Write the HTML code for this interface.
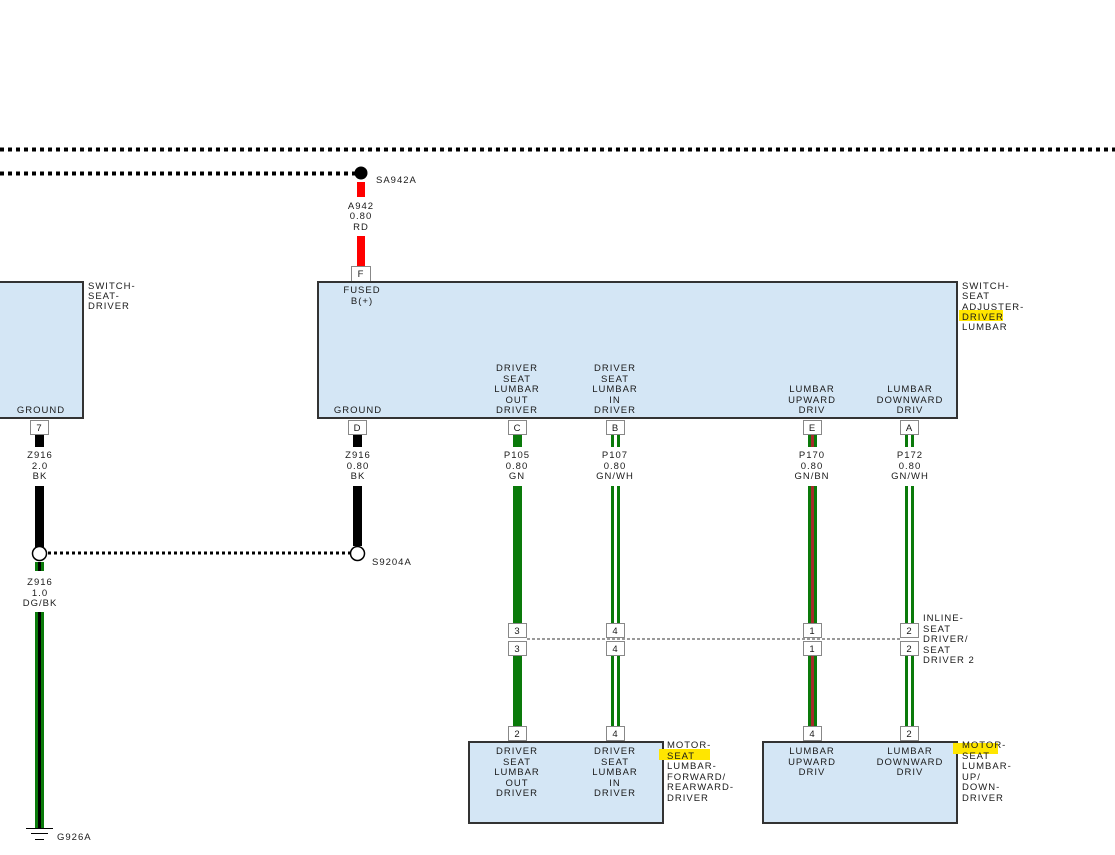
<!DOCTYPE html>
<html><head><meta charset="utf-8"><style>
html,body{margin:0;padding:0;background:#fff;}
svg{display:block;}
text{font-family:"Liberation Sans",sans-serif;font-size:9.5px;letter-spacing:1px;fill:#1a1a1a;}
.c{text-anchor:middle;}
</style></head><body>
<svg width="1115" height="855" viewBox="0 0 1115 855" xmlns="http://www.w3.org/2000/svg">
<!-- dotted buses -->
<line x1="0" y1="149.5" x2="1115" y2="149.5" stroke="#000" stroke-width="4" stroke-dasharray="4,4"/>
<line x1="0" y1="173.5" x2="356" y2="173.5" stroke="#000" stroke-width="4" stroke-dasharray="4,4"/>
<circle cx="361" cy="173" r="6.5" fill="#000"/>
<text x="376" y="183">SA942A</text>
<!-- red wire -->
<rect x="357" y="182" width="8" height="15" fill="#f00"/>
<text class="c" x="361" y="209">A942</text>
<text class="c" x="361" y="219">0.80</text>
<text class="c" x="361" y="230">RD</text>
<rect x="357" y="236" width="8" height="30" fill="#f00"/>
<rect x="351.5" y="266.5" width="19" height="15" fill="#fff" stroke="#888"/>
<text class="c" x="361" y="277">F</text>

<!-- left box -->
<rect x="-2" y="282" width="85" height="136" fill="#d4e6f5" stroke="#333" stroke-width="2"/>
<text class="c" x="41" y="413">GROUND</text>
<text x="88" y="289">SWITCH-</text>
<text x="88" y="299">SEAT-</text>
<text x="88" y="309">DRIVER</text>

<!-- main box -->
<rect x="318" y="282" width="639" height="136" fill="#d4e6f5" stroke="#333" stroke-width="2"/>
<text class="c" x="362" y="293">FUSED</text>
<text class="c" x="362" y="304">B(+)</text>
<text class="c" x="358" y="413">GROUND</text>
<text class="c" x="517" y="371">DRIVER</text><text class="c" x="517" y="382">SEAT</text><text class="c" x="517" y="392">LUMBAR</text><text class="c" x="517" y="403">OUT</text><text class="c" x="517" y="413">DRIVER</text>
<text class="c" x="615" y="371">DRIVER</text><text class="c" x="615" y="382">SEAT</text><text class="c" x="615" y="392">LUMBAR</text><text class="c" x="615" y="403">IN</text><text class="c" x="615" y="413">DRIVER</text>
<text class="c" x="812" y="392">LUMBAR</text><text class="c" x="812" y="403">UPWARD</text><text class="c" x="812" y="413">DRIV</text>
<text class="c" x="910" y="392">LUMBAR</text><text class="c" x="910" y="403">DOWNWARD</text><text class="c" x="910" y="413">DRIV</text>
<rect x="959" y="310" width="44" height="11" fill="#ffe600"/>
<text x="962" y="289">SWITCH-</text><text x="962" y="299">SEAT</text><text x="962" y="310">ADJUSTER-</text><text x="962" y="320">DRIVER</text><text x="962" y="330">LUMBAR</text>

<!-- pins below main -->
<g fill="#fff" stroke="#888">
<rect x="30.5" y="420.5" width="18" height="14"/>
<rect x="348.5" y="420.5" width="18" height="14"/>
<rect x="508.5" y="420.5" width="18" height="14"/>
<rect x="606.5" y="420.5" width="18" height="14"/>
<rect x="803.5" y="420.5" width="18" height="14"/>
<rect x="900.5" y="420.5" width="18" height="14"/>
</g>
<text class="c" x="39.5" y="431">7</text>
<text class="c" x="357.5" y="431">D</text>
<text class="c" x="517.5" y="431">C</text>
<text class="c" x="615.5" y="431">B</text>
<text class="c" x="812.5" y="431">E</text>
<text class="c" x="909.5" y="431">A</text>

<!-- wire labels -->
<text class="c" x="40" y="458">Z916</text><text class="c" x="40" y="469">2.0</text><text class="c" x="40" y="479">BK</text>
<text class="c" x="358" y="458">Z916</text><text class="c" x="358" y="469">0.80</text><text class="c" x="358" y="479">BK</text>
<text class="c" x="517" y="458">P105</text><text class="c" x="517" y="469">0.80</text><text class="c" x="517" y="479">GN</text>
<text class="c" x="615" y="458">P107</text><text class="c" x="615" y="469">0.80</text><text class="c" x="615" y="479">GN/WH</text>
<text class="c" x="812" y="458">P170</text><text class="c" x="812" y="469">0.80</text><text class="c" x="812" y="479">GN/BN</text>
<text class="c" x="910" y="458">P172</text><text class="c" x="910" y="469">0.80</text><text class="c" x="910" y="479">GN/WH</text>

<!-- black wires -->
<rect x="35" y="435" width="9" height="12" fill="#000"/>
<rect x="35" y="486" width="9" height="61" fill="#000"/>
<rect x="353" y="435" width="9" height="12" fill="#000"/>
<rect x="353" y="486" width="9" height="60" fill="#000"/>
<line x1="48" y1="553" x2="350" y2="553" stroke="#000" stroke-width="3" stroke-dasharray="3,3"/>
<circle cx="39.5" cy="553.5" r="7" fill="#fff" stroke="#000" stroke-width="1.5"/>
<circle cx="357.5" cy="553.5" r="7" fill="#fff" stroke="#000" stroke-width="1.5"/>
<text x="372" y="565">S9204A</text>

<!-- DG/BK -->
<rect x="35" y="562" width="9" height="9" fill="#0a7a0a"/><rect x="38" y="562" width="3" height="9" fill="#000"/>
<text class="c" x="40" y="585">Z916</text><text class="c" x="40" y="596">1.0</text><text class="c" x="40" y="606">DG/BK</text>
<rect x="35" y="612" width="9" height="216" fill="#0a7a0a"/><rect x="38" y="612" width="3" height="216" fill="#000"/>
<line x1="26" y1="828.5" x2="53" y2="828.5" stroke="#000"/>
<line x1="31" y1="833.5" x2="48" y2="833.5" stroke="#000"/>
<line x1="35" y1="839.5" x2="44" y2="839.5" stroke="#000"/>
<text x="57" y="840">G926A</text>

<!-- green wires: C -->
<g fill="#0a7a0a">
<rect x="513" y="435" width="9" height="12"/>
<rect x="513" y="486" width="9" height="137"/>
<rect x="513" y="656" width="9" height="70"/>
</g>
<!-- B striped -->
<g>
<rect x="611" y="435" width="9" height="12" fill="#0a7a0a"/><rect x="614" y="435" width="3" height="12" fill="#fff"/>
<rect x="611" y="486" width="9" height="137" fill="#0a7a0a"/><rect x="614" y="486" width="3" height="137" fill="#fff"/>
<rect x="611" y="656" width="9" height="70" fill="#0a7a0a"/><rect x="614" y="656" width="3" height="70" fill="#fff"/>
</g>
<!-- E GN/BN -->
<g>
<rect x="808" y="435" width="9" height="12" fill="#0a7a0a"/><rect x="811" y="435" width="3" height="12" fill="#a52a2a"/>
<rect x="808" y="486" width="9" height="137" fill="#0a7a0a"/><rect x="811" y="486" width="3" height="137" fill="#a52a2a"/>
<rect x="808" y="656" width="9" height="70" fill="#0a7a0a"/><rect x="811" y="656" width="3" height="70" fill="#a52a2a"/>
</g>
<!-- A striped -->
<g>
<rect x="905" y="435" width="9" height="12" fill="#0a7a0a"/><rect x="908" y="435" width="3" height="12" fill="#fff"/>
<rect x="905" y="486" width="9" height="137" fill="#0a7a0a"/><rect x="908" y="486" width="3" height="137" fill="#fff"/>
<rect x="905" y="656" width="9" height="70" fill="#0a7a0a"/><rect x="908" y="656" width="3" height="70" fill="#fff"/>
</g>

<!-- inline connector -->
<line x1="527" y1="639" x2="900" y2="639" stroke="#333" stroke-width="1" stroke-dasharray="3,2"/>
<g fill="#fff" stroke="#888">
<rect x="508.5" y="623.5" width="18" height="14"/><rect x="508.5" y="641.5" width="18" height="14"/>
<rect x="606.5" y="623.5" width="18" height="14"/><rect x="606.5" y="641.5" width="18" height="14"/>
<rect x="803.5" y="623.5" width="18" height="14"/><rect x="803.5" y="641.5" width="18" height="14"/>
<rect x="900.5" y="623.5" width="18" height="14"/><rect x="900.5" y="641.5" width="18" height="14"/>
<rect x="508.5" y="726.5" width="18" height="14"/><rect x="606.5" y="726.5" width="18" height="14"/>
<rect x="803.5" y="726.5" width="18" height="14"/><rect x="900.5" y="726.5" width="18" height="14"/>
</g>
<text class="c" x="517.5" y="634">3</text><text class="c" x="517.5" y="652">3</text>
<text class="c" x="615.5" y="634">4</text><text class="c" x="615.5" y="652">4</text>
<text class="c" x="812.5" y="634">1</text><text class="c" x="812.5" y="652">1</text>
<text class="c" x="909.5" y="634">2</text><text class="c" x="909.5" y="652">2</text>
<text class="c" x="517.5" y="737">2</text><text class="c" x="615.5" y="737">4</text>
<text class="c" x="812.5" y="737">4</text><text class="c" x="909.5" y="737">2</text>
<text x="923" y="621">INLINE-</text><text x="923" y="632">SEAT</text><text x="923" y="642">DRIVER/</text><text x="923" y="653">SEAT</text><text x="923" y="663">DRIVER 2</text>

<!-- motor boxes -->
<rect x="469" y="742" width="194" height="81" fill="#d4e6f5" stroke="#333" stroke-width="2"/>
<rect x="763" y="742" width="194" height="81" fill="#d4e6f5" stroke="#333" stroke-width="2"/>
<text class="c" x="517" y="754">DRIVER</text><text class="c" x="517" y="765">SEAT</text><text class="c" x="517" y="775">LUMBAR</text><text class="c" x="517" y="786">OUT</text><text class="c" x="517" y="796">DRIVER</text>
<text class="c" x="615" y="754">DRIVER</text><text class="c" x="615" y="765">SEAT</text><text class="c" x="615" y="775">LUMBAR</text><text class="c" x="615" y="786">IN</text><text class="c" x="615" y="796">DRIVER</text>
<text class="c" x="812" y="754">LUMBAR</text><text class="c" x="812" y="765">UPWARD</text><text class="c" x="812" y="775">DRIV</text>
<text class="c" x="910" y="754">LUMBAR</text><text class="c" x="910" y="765">DOWNWARD</text><text class="c" x="910" y="775">DRIV</text>
<rect x="659" y="749" width="51" height="11" fill="#ffe600"/>
<text x="667" y="748">MOTOR-</text><text x="667" y="759">SEAT</text><text x="667" y="769">LUMBAR-</text><text x="667" y="780">FORWARD/</text><text x="667" y="790">REARWARD-</text><text x="667" y="801">DRIVER</text>
<rect x="953" y="743" width="45" height="11" fill="#ffe600"/>
<text x="962" y="748">MOTOR-</text><text x="962" y="759">SEAT</text><text x="962" y="769">LUMBAR-</text><text x="962" y="780">UP/</text><text x="962" y="790">DOWN-</text><text x="962" y="801">DRIVER</text>
</svg>
</body></html>
